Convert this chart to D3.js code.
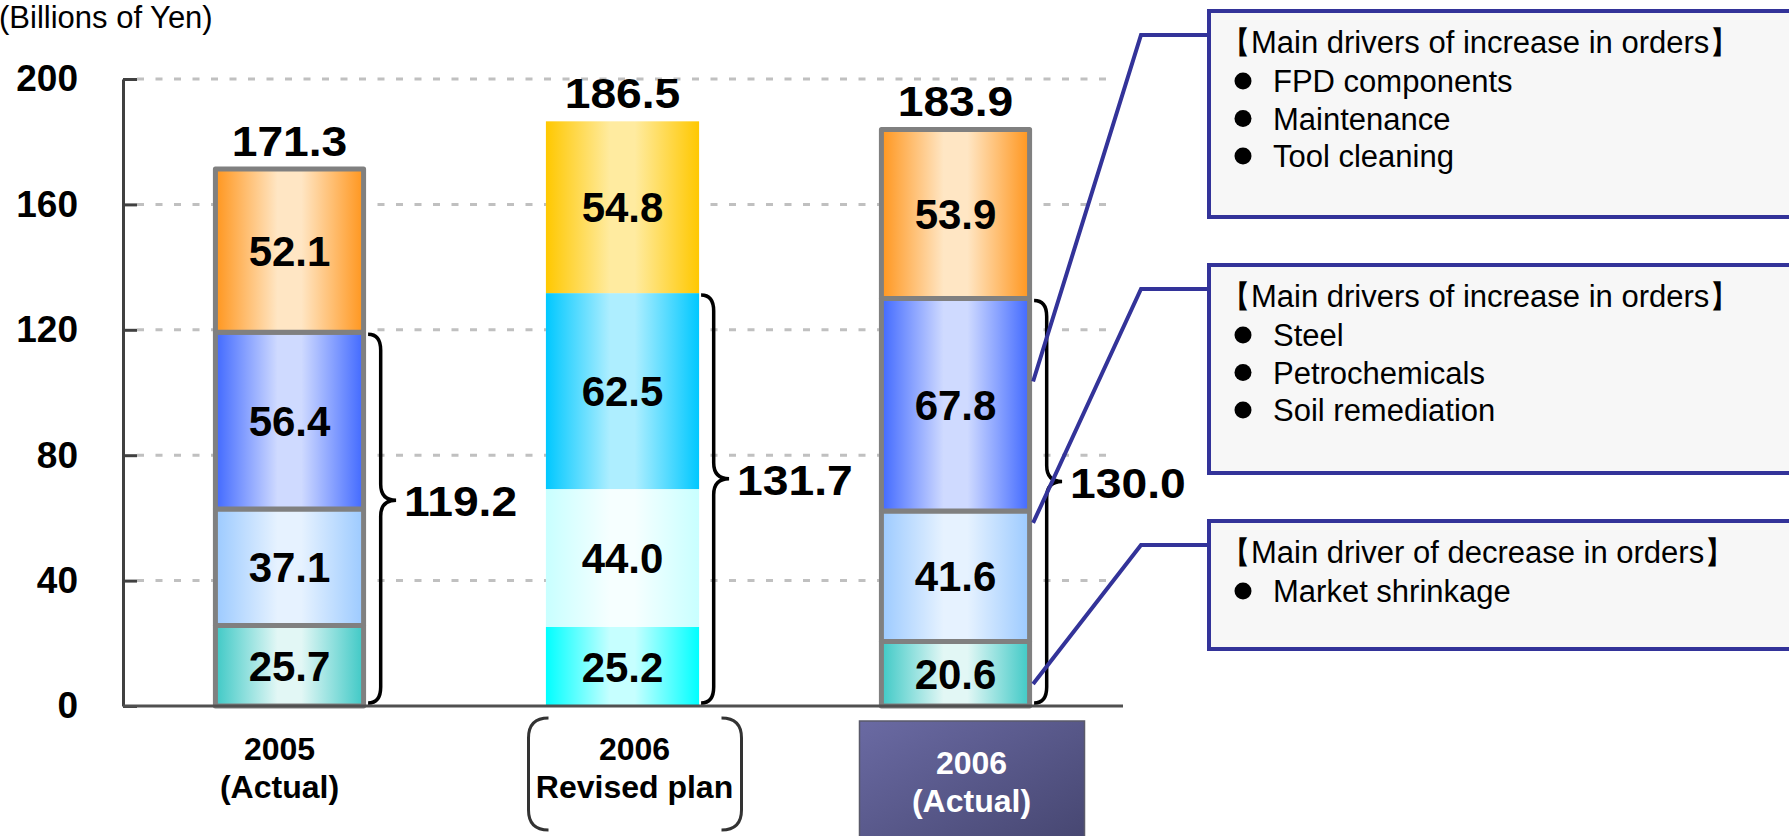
<!DOCTYPE html>
<html>
<head>
<meta charset="utf-8">
<script src="https://cdn.jsdelivr.net/npm/d3@7"></script>
<style>
  body { margin: 0; background: #fff; }
  svg { display: block; font-family: "Liberation Sans", Arial, sans-serif; }
</style>
</head>
<body>
<div id="chart"></div>
<script>
// ── Data ───────────────────────────────────────────────────────────────
const categories = ["2005 (Actual)", "2006 Revised plan", "2006 (Actual)"];
const categoryLines = [["2005", "(Actual)"], ["2006", "Revised plan"], ["2006", "(Actual)"]];
const segmentKeys = ["s1", "s2", "s3", "s4"];
const values2005 = [25.7, 37.1, 56.4, 52.1];
const valuesPlan = [25.2, 44.0, 62.5, 54.8];
const values2006 = [20.6, 41.6, 67.8, 53.9];
const totals = [171.3, 186.5, 183.9];
const braceTotals = [119.2, 131.7, 130.0];
const yTicks = [0, 40, 80, 120, 160, 200];

const calloutTitles = [
  "【Main drivers of increase in orders】",
  "【Main drivers of increase in orders】",
  "【Main driver of decrease in orders】",
];
const calloutItems = [
  ["FPD components", "Maintenance", "Tool cleaning"],
  ["Steel", "Petrochemicals", "Soil remediation"],
  ["Market shrinkage"],
];
const calloutAnchors = [103.5, 58.4, 7.0];

// colour pairs: [edge, centre]
const actualColors = [
  ["#3fc9c6", "#e2f7f5"],
  ["#9ccaff", "#e6f2ff"],
  ["#4169ff", "#cfdaff"],
  ["#ff961e", "#ffe6c4"],
];
const planColors = [
  ["#00ffff", "#c6ffff"],
  ["#c8ffff", "#f6ffff"],
  ["#00c8ff", "#aeeeff"],
  ["#ffc800", "#ffeba0"],
];

// ── Layout ─────────────────────────────────────────────────────────────
const W = 1789;
const H = 836;
const labelShift = [-10, 12, 16];
const boxX = 1209;
const boxTops = [11, 265, 521];
const boxHeights = [206, 208, 128];

const svg = d3
  .select("#chart")
  .append("svg")
  .attr("width", W)
  .attr("height", H);

const defs = svg.append("defs");

function addGradient(id, edge, light) {
  const g = defs
    .append("linearGradient")
    .attr("id", id)
    .attr("x1", "0%")
    .attr("x2", "100%")
    .attr("y1", "0%")
    .attr("y2", "0%");
  g.append("stop").attr("offset", "0%").attr("stop-color", edge);
  g.append("stop").attr("offset", "42%").attr("stop-color", light);
  g.append("stop").attr("offset", "58%").attr("stop-color", light);
  g.append("stop").attr("offset", "100%").attr("stop-color", edge);
}
actualColors.forEach((c, i) => addGradient(`grad-a-${i}`, c[0], c[1]));
planColors.forEach((c, i) => addGradient(`grad-p-${i}`, c[0], c[1]));

const boxGrad = defs
  .append("linearGradient")
  .attr("id", "grad-box")
  .attr("x1", "0%")
  .attr("y1", "0%")
  .attr("x2", "100%")
  .attr("y2", "100%");
boxGrad.append("stop").attr("offset", "0%").attr("stop-color", "#6a6aa3");
boxGrad.append("stop").attr("offset", "100%").attr("stop-color", "#45456f");

// ── Scales ─────────────────────────────────────────────────────────────
const x = d3
  .scaleBand()
  .domain(categories)
  .range([123, 1122])
  .paddingInner(0.54)
  .paddingOuter(0.27);

const y = d3.scaleLinear().domain([0, 200]).range([706, 79]);

const bw = x.bandwidth();

// ── Stack ──────────────────────────────────────────────────────────────
const rows = categories.map((c, i) => {
  const vals = [values2005, valuesPlan, values2006][i];
  const row = { cat: c, idx: i };
  segmentKeys.forEach((k, j) => (row[k] = vals[j]));
  return row;
});
const series = d3.stack().keys(segmentKeys)(rows);

// ── Grid ───────────────────────────────────────────────────────────────
svg
  .append("g")
  .selectAll("line")
  .data(yTicks.filter((t) => t > 0))
  .join("line")
  .attr("x1", 137)
  .attr("x2", 1110)
  .attr("y1", (d) => y(d))
  .attr("y2", (d) => y(d))
  .attr("stroke", "#c0c0c0")
  .attr("stroke-width", 3)
  .attr("stroke-dasharray", "7,11.5");

// ── Bars ───────────────────────────────────────────────────────────────
const segs = [];
series.forEach((s, j) => {
  s.forEach((d) => segs.push({ j, i: d.data.idx, cat: d.data.cat, y0: d[0], y1: d[1] }));
});

const barG = svg.append("g");
barG
  .selectAll("rect")
  .data(segs)
  .join("rect")
  .attr("x", (d) => (d.i === 1 ? x(d.cat) : x(d.cat) + 2.5))
  .attr("width", (d) => (d.i === 1 ? bw : bw - 5))
  .attr("y", (d) => y(d.y1))
  .attr("height", (d) => y(d.y0) - y(d.y1))
  .attr("fill", (d) => `url(#grad-${d.i === 1 ? "p" : "a"}-${d.j})`)
  .attr("stroke", (d) => (d.i === 1 ? "none" : "#808080"))
  .attr("stroke-width", 5)
  .attr("stroke-linejoin", "round");

barG
  .selectAll("text")
  .data(segs)
  .join("text")
  .attr("x", (d) => x(d.cat) + bw / 2)
  .attr("y", (d) => (y(d.y0) + y(d.y1)) / 2)
  .attr("dy", "0.36em")
  .attr("text-anchor", "middle")
  .style("font-size", "42px")
  .style("font-weight", "700")
  .text((d) => (d.y1 - d.y0).toFixed(1));

// ── Axes ───────────────────────────────────────────────────────────────
const yAxis = svg
  .append("g")
  .attr("transform", "translate(123,0)")
  .call(
    d3
      .axisLeft(y)
      .tickValues(yTicks)
      .tickSizeInner(-14)
      .tickSizeOuter(0)
      .tickPadding(45)
  );
yAxis.select(".domain").attr("stroke", "#404040").attr("stroke-width", 3);
yAxis.selectAll(".tick line").attr("stroke", "#404040").attr("stroke-width", 3);
yAxis
  .selectAll(".tick text")
  .attr("fill", "#000")
  .style("font-family", '"Liberation Sans", Arial, sans-serif')
  .style("font-size", "37px")
  .style("font-weight", "700");

svg
  .append("line")
  .attr("x1", 123)
  .attr("x2", 1123)
  .attr("y1", y(0))
  .attr("y2", y(0))
  .attr("stroke", "#505050")
  .attr("stroke-width", 3);

svg
  .append("text")
  .attr("x", -1)
  .attr("y", 28)
  .style("font-size", "31px")
  .text("(Billions of Yen)");

// ── Totals ─────────────────────────────────────────────────────────────
svg
  .append("g")
  .selectAll("text")
  .data(totals)
  .join("text")
  .attr("transform", (d, i) => `translate(${x(categories[i]) + bw / 2},${y(d) - 13}) scale(1.1,1)`)
  .attr("text-anchor", "middle")
  .style("font-size", "42px")
  .style("font-weight", "700")
  .text((d) => d.toFixed(1));

// ── Braces ─────────────────────────────────────────────────────────────
function bracePath(x0, y1, y2, w) {
  const ym = y1 + (y2 - y1) * 0.45;
  const xm = x0 + w * 0.45;
  const r = 16;
  return (
    `M${x0},${y1} Q${xm},${y1} ${xm},${y1 + r} L${xm},${ym - r} ` +
    `Q${xm},${ym} ${x0 + w},${ym} Q${xm},${ym} ${xm},${ym + r} ` +
    `L${xm},${y2 - r} Q${xm},${y2} ${x0},${y2}`
  );
}

const braceG = svg.append("g");
braceTotals.forEach((v, i) => {
  const x0 = x(categories[i]) + bw + 2;
  const y1 = y(v) + 2;
  const y2 = y(0) - 3;
  const w = 28;
  braceG
    .append("path")
    .attr("d", bracePath(x0, y1, y2, w))
    .attr("fill", "none")
    .attr("stroke", "#000")
    .attr("stroke-width", 3.5);
  braceG
    .append("text")
    .attr("transform", `translate(${x0 + w + 8},${y1 + (y2 - y1) * 0.45 + 16}) scale(1.1,1)`)
    .style("font-size", "42px")
    .style("font-weight", "700")
    .text(v.toFixed(1));
});

// ── Category Labels ────────────────────────────────────────────────────
const catG = svg.append("g");
categories.forEach((c, i) => {
  const cx = x(c) + bw / 2 + labelShift[i];
  const top = i === 2 ? 774 : 760;
  if (i === 2) {
    catG
      .append("rect")
      .attr("x", cx - 112)
      .attr("y", 721)
      .attr("width", 225)
      .attr("height", 130)
      .attr("fill", "url(#grad-box)")
      .attr("stroke", "#5a5a6a")
      .attr("stroke-width", 1.5);
  }
  if (i === 1) {
    const bl = `M${cx - 86},718 Q${cx - 106},718 ${cx - 106},738 L${cx - 106},810 Q${cx - 106},830 ${cx - 86},830`;
    const br = `M${cx + 87},718 Q${cx + 107},718 ${cx + 107},738 L${cx + 107},810 Q${cx + 107},830 ${cx + 87},830`;
    catG.append("path").attr("d", bl).attr("fill", "none").attr("stroke", "#333").attr("stroke-width", 3);
    catG.append("path").attr("d", br).attr("fill", "none").attr("stroke", "#333").attr("stroke-width", 3);
  }
  catG
    .append("text")
    .attr("text-anchor", "middle")
    .attr("fill", i === 2 ? "#fff" : "#000")
    .style("font-size", "32px")
    .style("font-weight", "700")
    .selectAll("tspan")
    .data(categoryLines[i])
    .join("tspan")
    .attr("x", cx)
    .attr("y", (d, k) => top + k * 38)
    .text((d) => d);
});

// ── Callouts ───────────────────────────────────────────────────────────
const callG = svg.append("g");
calloutAnchors.forEach((v, i) => {
  const ax = x(categories[2]) + bw + 1;
  const hy = boxTops[i] + 24;
  callG
    .append("polyline")
    .attr("points", `${ax},${y(v)} 1141,${hy} ${boxX},${hy}`)
    .attr("fill", "none")
    .attr("stroke", "#333399")
    .attr("stroke-width", 4);

  callG
    .append("rect")
    .attr("x", boxX)
    .attr("y", boxTops[i])
    .attr("width", 600)
    .attr("height", boxHeights[i])
    .attr("fill", "#f7f7f7")
    .attr("stroke", "#333399")
    .attr("stroke-width", 4);

  callG
    .append("text")
    .attr("x", 1220)
    .attr("y", boxTops[i] + 42)
    .style("font-size", "31px")
    .text(calloutTitles[i]);

  calloutItems[i].forEach((t, k) => {
    const by = boxTops[i] + 81 + k * 37.5;
    callG
      .append("circle")
      .attr("cx", 1243)
      .attr("cy", by - 11)
      .attr("r", 8.5)
      .attr("fill", "#000");
    callG
      .append("text")
      .attr("x", 1273)
      .attr("y", by)
      .style("font-size", "31px")
      .text(t);
  });
});
</script>
</body>
</html>
